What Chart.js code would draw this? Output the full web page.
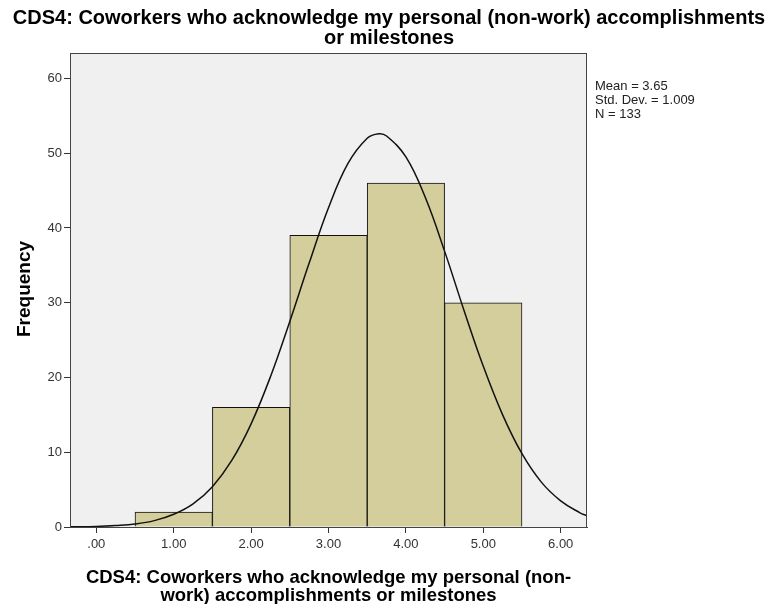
<!DOCTYPE html>
<html>
<head>
<meta charset="utf-8">
<script src="https://cdn.jsdelivr.net/npm/chart.js@4.4.1/dist/chart.umd.min.js"></script>
<style>
  html, body { margin: 0; padding: 0; background: #fff; }
  #wrap { width: 772px; height: 604px; }
</style>
</head>
<body>
<div id="wrap"><canvas id="hist" width="772" height="604"></canvas></div>
<script>
// histogram bins (bin centre) and counts
const binCenters = [1, 2, 3, 4, 5];
const binCounts = [2, 16, 39, 46, 30];

// normal curve
const curveX = [-0.34, 0, 0.25, 0.5, 0.75, 1, 1.25, 1.5, 1.75, 2, 2.25, 2.5, 2.75, 3, 3.25, 3.5, 3.65, 3.75, 4, 4.25, 4.5, 4.75, 5, 5.25, 5.5, 5.75, 6, 6.25, 6.34];
const curveY = [0.02, 0.08, 0.2, 0.4, 0.85, 1.7, 3.1, 5.4, 8.9, 13.8, 20.1, 27.5, 35.3, 42.7, 48.6, 52.0, 52.6, 52.3, 49.5, 44.1, 36.9, 29.0, 21.5, 15.0, 9.8, 6.0, 3.5, 1.9, 1.5];

const xTicks = [0, 1, 2, 3, 4, 5, 6];
const xTickLabels = ['.00', '1.00', '2.00', '3.00', '4.00', '5.00', '6.00'];
const yTicks = [0, 10, 20, 30, 40, 50, 60];

const titleLines = ['CDS4: Coworkers who acknowledge my personal (non-work) accomplishments', 'or milestones'];
const xTitleLines = ['CDS4: Coworkers who acknowledge my personal (non-', 'work) accomplishments or milestones'];
const yTitle = 'Frequency';
const statLines = ['Mean = 3.65', 'Std. Dev. = 1.009', 'N = 133'];

const FONT = '"Liberation Sans", Arial, sans-serif';

const decor = {
  id: 'decor',
  beforeDraw(chart) {
    const {ctx, chartArea: a} = chart;
    ctx.save();
    ctx.fillStyle = '#f0f0f0';
    ctx.fillRect(a.left, a.top, a.right - a.left, a.bottom - a.top);
    ctx.restore();
  },
  afterDraw(chart) {
    const {ctx, chartArea: a} = chart;
    ctx.save();
    ctx.strokeStyle = '#444';
    ctx.lineWidth = 1;
    ctx.strokeRect(a.left + 0.5, a.top + 0.5, a.right - a.left - 1, a.bottom - a.top);

    ctx.fillStyle = '#000';
    ctx.textAlign = 'center';
    ctx.textBaseline = 'middle';
    ctx.font = 'bold 20px ' + FONT;
    ctx.fillText(titleLines[0], 389, 18);
    ctx.fillText(titleLines[1], 389, 38);

    ctx.font = 'bold 18.5px ' + FONT;
    const cx = (a.left + a.right) / 2;
    ctx.fillText(xTitleLines[0], cx, 578);
    ctx.fillText(xTitleLines[1], cx, 596);

    ctx.save();
    ctx.translate(25, 289);
    ctx.rotate(-Math.PI / 2);
    ctx.font = 'bold 19px ' + FONT;
    ctx.fillText(yTitle, 0, 0);
    ctx.restore();

    ctx.font = '13px ' + FONT;
    ctx.fillStyle = '#222';
    ctx.textAlign = 'left';
    statLines.forEach((s, i) => ctx.fillText(s, 595, 86 + i * 14));
    ctx.restore();
  }
};

new Chart(document.getElementById('hist'), {
  type: 'bar',
  data: {
    datasets: [{
      type: 'line',
      data: curveX.map((x, i) => ({x: x, y: curveY[i]})),
      borderColor: '#111',
      borderWidth: 1.5,
      pointRadius: 0,
      tension: 0.4,
      fill: false,
      order: 0
    }, {
      type: 'bar',
      data: binCenters.map((x, i) => ({x: x, y: binCounts[i]})),
      backgroundColor: '#d3ce9b',
      borderColor: '#111',
      borderWidth: 1,
      barPercentage: 1,
      categoryPercentage: 1,
      order: 1
    }]
  },
  options: {
    responsive: false,
    animation: false,
    layout: {padding: {left: 0, top: 53, right: 185, bottom: 0}},
    plugins: {legend: {display: false}, tooltip: {enabled: false}},
    scales: {
      x: {
        type: 'linear',
        min: -0.34,
        max: 6.34,
        offset: false,
        afterBuildTicks: s => { s.ticks = xTicks.map(v => ({value: v})); },
        afterFit: s => { s.height = 77; },
        ticks: {
          callback: (v, i) => xTickLabels[i],
          color: '#333',
          font: {family: FONT, size: 13},
          padding: 4,
          maxRotation: 0,
          autoSkip: false
        },
        grid: {drawOnChartArea: false, offset: false, color: '#333', tickLength: 6},
        border: {color: '#444'}
      },
      y: {
        min: 0,
        max: 63.4,
        afterBuildTicks: s => { s.ticks = yTicks.map(v => ({value: v})); },
        afterFit: s => { s.width = 70; },
        ticks: {
          color: '#333',
          font: {family: FONT, size: 13},
          padding: 2
        },
        grid: {drawOnChartArea: false, color: '#333', tickLength: 6},
        border: {color: '#444'}
      }
    }
  },
  plugins: [decor]
});
</script>
</body>
</html>
